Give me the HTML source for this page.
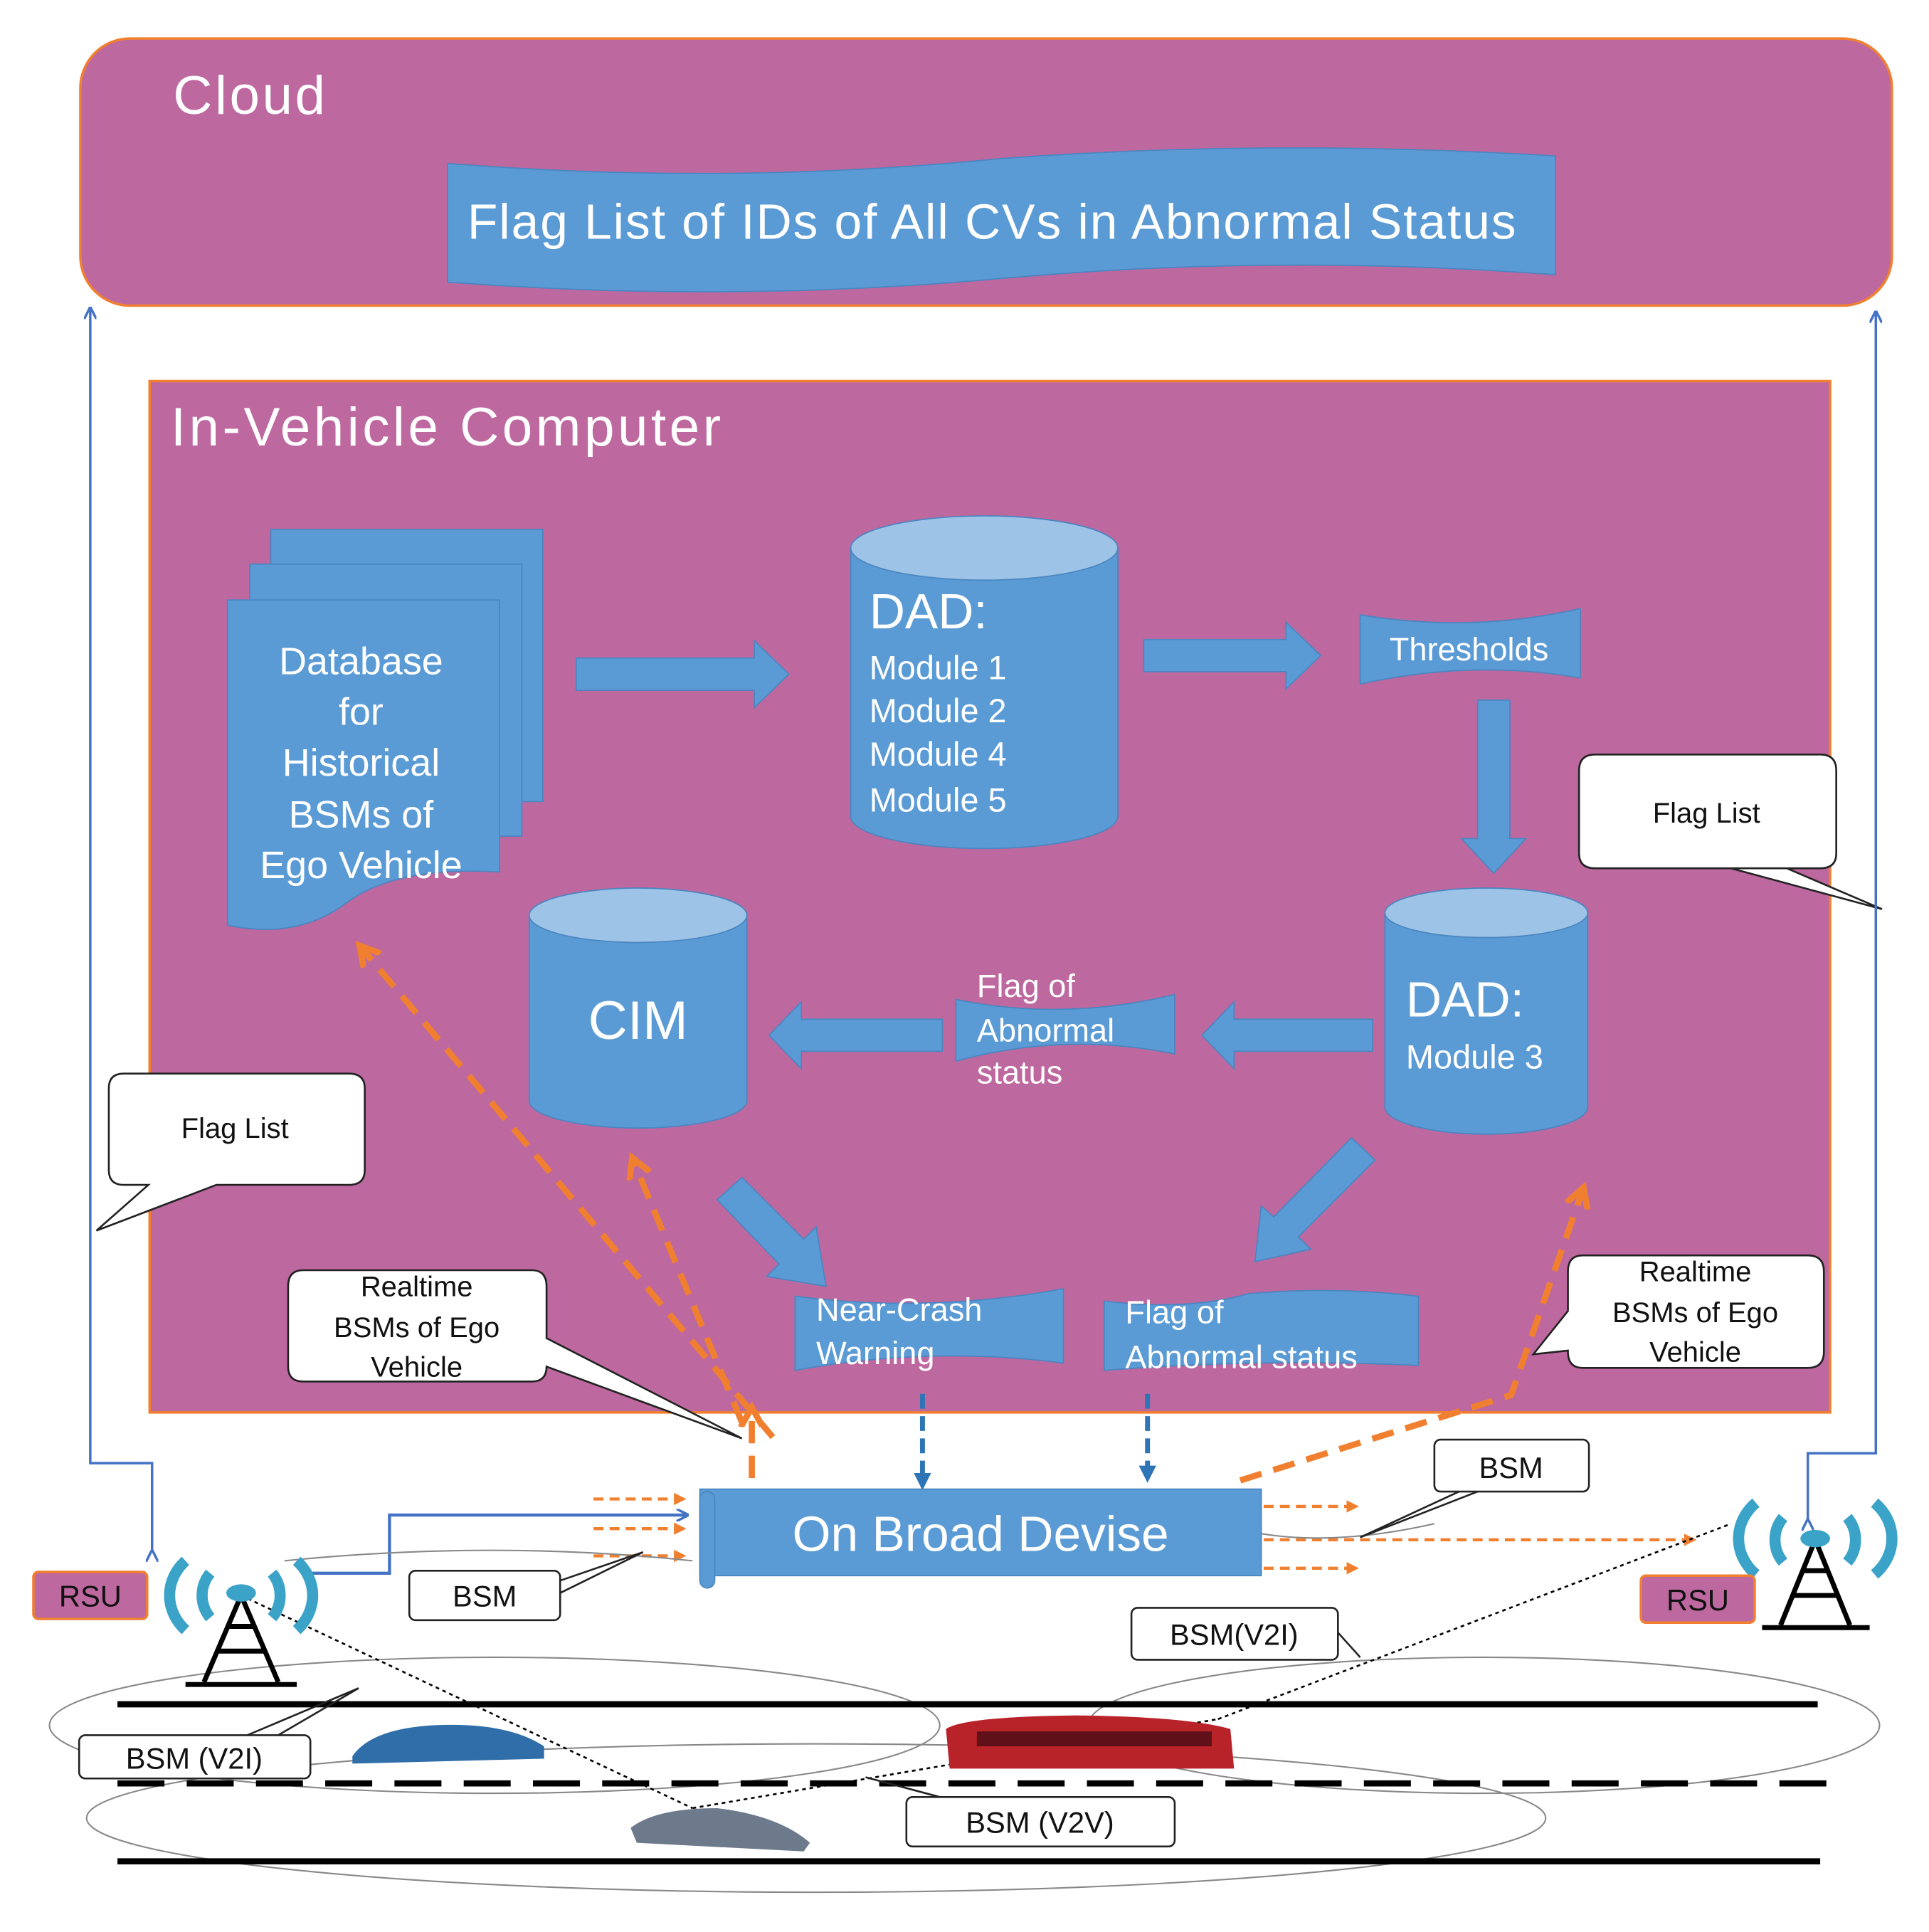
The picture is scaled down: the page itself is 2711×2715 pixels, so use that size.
<!DOCTYPE html>
<html><head><meta charset="utf-8"><style>
html,body{margin:0;padding:0;background:#fff}
svg{display:block}
text{font-family:"Liberation Sans","DejaVu Sans",sans-serif}
</style></head><body>
<svg width="2711" height="2715" viewBox="0 0 1560 1562" xmlns="http://www.w3.org/2000/svg">
<defs>
<marker id="ab" markerWidth="10" markerHeight="10" refX="8" refY="5" orient="auto" markerUnits="userSpaceOnUse"><path d="M0,0 L10,5 L0,10" fill="none" stroke="#4472C4" stroke-width="2"/></marker>
<marker id="ab2" markerWidth="14" markerHeight="14" refX="7" refY="7" orient="auto" markerUnits="userSpaceOnUse"><path d="M0,0 L14,7 L0,14 z" fill="#2E75B6"/></marker>
<marker id="ao" markerWidth="22" markerHeight="22" refX="14" refY="11" orient="auto" markerUnits="userSpaceOnUse"><path d="M0,2 L16,11 L0,20" fill="none" stroke="#F08030" stroke-width="5"/></marker>
<marker id="aos" markerWidth="10" markerHeight="10" refX="8" refY="5" orient="auto" markerUnits="userSpaceOnUse"><path d="M0,0 L10,5 L0,10 z" fill="#F08030"/></marker>
</defs>
<rect x="65" y="31" width="1465" height="216" rx="40" fill="#BE68A0" stroke="#F08030" stroke-width="2"/>
<text x="140" y="92" font-size="44" fill="#fff" textLength="123">Cloud</text>
<path d="M362,132 Q590,150 810,128 Q1030,112 1258,126 L1258,222 Q1030,205 810,225 Q590,245 362,228 Z" fill="#5B9BD5" stroke="#4A86C0"/>
<text x="378" y="193" font-size="40" fill="#fff" textLength="848">Flag List of IDs of All CVs in Abnormal Status</text>
<rect x="121" y="308" width="1359" height="834" fill="#BE68A0" stroke="#F08030" stroke-width="2"/>
<text x="138" y="360" font-size="44" fill="#fff" textLength="445">In-Vehicle Computer</text>
<rect x="219" y="428" width="220" height="220" fill="#5B9BD5" stroke="#4A86C0"/>
<rect x="202" y="456" width="220" height="220" fill="#5B9BD5" stroke="#4A86C0"/>
<path d="M184,485 L404,485 L404,705 Q320,700 280,730 Q240,760 184,748 Z" fill="#5B9BD5" stroke="#4A86C0"/>
<g font-size="31" fill="#fff" text-anchor="middle"><text x="292" y="545">Database</text><text x="292" y="586">for</text><text x="292" y="627">Historical</text><text x="292" y="669">BSMs of</text><text x="292" y="710">Ego Vehicle</text></g>
<path d="M466,532 L610,532 L610,518 L638,545 L610,572 L610,558 L466,558 Z" fill="#5B9BD5" stroke="#4A86C0"/>
<path d="M688,443 L688,660 A108,26 0 0 0 904,660 L904,443 Z" fill="#5B9BD5" stroke="#4A86C0"/>
<ellipse cx="796" cy="443" rx="108" ry="26" fill="#9DC3E6" stroke="#4A86C0"/>
<text x="703" y="508" font-size="40" fill="#fff">DAD:</text>
<g font-size="27" fill="#fff"><text x="703" y="549">Module 1</text><text x="703" y="584">Module 2</text><text x="703" y="619">Module 4</text><text x="703" y="656">Module 5</text></g>
<path d="M925,517 L1040,517 L1040,503 L1068,530 L1040,557 L1040,543 L925,543 Z" fill="#5B9BD5" stroke="#4A86C0"/>
<path d="M1100,497 Q1190,512 1278,492 L1278,548 Q1190,533 1100,553 Z" fill="#5B9BD5" stroke="#4A86C0"/>
<text x="1188" y="534" font-size="26" fill="#fff" text-anchor="middle">Thresholds</text>
<path d="M1195,566 L1221,566 L1221,678 L1234,678 L1208,706 L1182,678 L1195,678 Z" fill="#5B9BD5" stroke="#4A86C0"/>
<path d="M1120,738 L1120,895 A82,22 0 0 0 1284,895 L1284,738 Z" fill="#5B9BD5" stroke="#4A86C0"/>
<ellipse cx="1202" cy="738" rx="82" ry="20" fill="#9DC3E6" stroke="#4A86C0"/>
<text x="1137" y="822" font-size="40" fill="#fff">DAD:</text>
<text x="1137" y="864" font-size="27" fill="#fff">Module 3</text>
<path d="M1110,824 L998,824 L998,810 L972,837 L998,864 L998,850 L1110,850 Z" fill="#5B9BD5" stroke="#4A86C0"/>
<path d="M773,808 Q860,826 950,804 L950,852 Q860,834 773,858 Z" fill="#5B9BD5" stroke="#4A86C0"/>
<g font-size="26" fill="#fff"><text x="790" y="806">Flag of</text><text x="790" y="842">Abnormal</text><text x="790" y="876">status</text></g>
<path d="M762,824 L648,824 L648,810 L622,837 L648,864 L648,850 L762,850 Z" fill="#5B9BD5" stroke="#4A86C0"/>
<path d="M428,740 L428,890 A88,22 0 0 0 604,890 L604,740 Z" fill="#5B9BD5" stroke="#4A86C0"/>
<ellipse cx="516" cy="740" rx="88" ry="22" fill="#9DC3E6" stroke="#4A86C0"/>
<text x="516" y="840" font-size="44" fill="#fff" text-anchor="middle">CIM</text>
<path d="M580,970 L600,952 L650,1002 L660,992 L668,1040 L620,1032 L630,1022 Z" fill="#5B9BD5" stroke="#4A86C0"/>
<path d="M1093,920 L1112,938 L1050,1000 L1060,1010 L1015,1020 L1020,975 L1030,984 Z" fill="#5B9BD5" stroke="#4A86C0"/>
<path d="M643,1048 Q750,1062 860,1042 L860,1102 Q750,1088 643,1108 Z" fill="#5B9BD5" stroke="#4A86C0"/>
<g font-size="26" fill="#fff"><text x="660" y="1068">Near-Crash</text><text x="660" y="1103">Warning</text></g>
<path d="M893,1052 Q960,1060 1010,1046 Q1080,1040 1147,1048 L1147,1104 Q1020,1098 893,1108 Z" fill="#5B9BD5" stroke="#4A86C0"/>
<g font-size="26" fill="#fff"><text x="910" y="1070">Flag of</text><text x="910" y="1106">Abnormal status</text></g>
<path d="M1290,610 L1472,610 Q1485,610 1485,623 L1485,690 Q1485,702 1472,702 L1400,702 L1522,735 L1445,702 L1290,702 Q1277,702 1277,690 L1277,623 Q1277,610 1290,610 Z" fill="#fff" stroke="#222" stroke-width="1.5"/>
<text x="1380" y="665" font-size="23" text-anchor="middle" fill="#111">Flag List</text>
<path d="M100,868 L282,868 Q295,868 295,880 L295,946 Q295,958 282,958 L175,958 L78,995 L120,958 L100,958 Q88,958 88,946 L88,880 Q88,868 100,868 Z" fill="#fff" stroke="#222" stroke-width="1.5"/>
<text x="190" y="920" font-size="23" text-anchor="middle" fill="#111">Flag List</text>
<path d="M245,1027 L430,1027 Q442,1027 442,1040 L442,1082 L600,1163 L442,1105 Q442,1117 430,1117 L245,1117 Q233,1117 233,1105 L233,1040 Q233,1027 245,1027 Z" fill="#fff" stroke="#222" stroke-width="1.5"/>
<g font-size="23" text-anchor="middle" fill="#111"><text x="337" y="1048">Realtime</text><text x="337" y="1081">BSMs of Ego</text><text x="337" y="1113">Vehicle</text></g>
<path d="M1280,1015 L1462,1015 Q1475,1015 1475,1028 L1475,1093 Q1475,1106 1462,1106 L1280,1106 Q1268,1106 1268,1093 L1268,1092 L1240,1095 L1268,1060 L1268,1028 Q1268,1015 1280,1015 Z" fill="#fff" stroke="#222" stroke-width="1.5"/>
<g font-size="23" text-anchor="middle" fill="#111"><text x="1371" y="1036">Realtime</text><text x="1371" y="1069">BSMs of Ego</text><text x="1371" y="1101">Vehicle</text></g>
<polyline points="123,1255 123,1183 73,1183 73,250" fill="none" stroke="#4472C4" stroke-width="2" marker-start="url(#ab)" marker-end="url(#ab)"/>
<polyline points="1462,1230 1462,1175 1517,1175 1517,253" fill="none" stroke="#4472C4" stroke-width="2" marker-start="url(#ab)" marker-end="url(#ab)"/>
<polyline points="250,1272 315,1272 315,1225 555,1225" fill="none" stroke="#4472C4" stroke-width="2.5" marker-end="url(#ab)"/>
<g stroke="#F08030" stroke-width="5" stroke-dasharray="18,10" fill="none">
<line x1="625" y1="1162" x2="292" y2="766" marker-end="url(#ao)"/>
<line x1="600" y1="1150" x2="512" y2="938" marker-end="url(#ao)"/>
<line x1="608" y1="1195" x2="608" y2="1140" marker-end="url(#ao)"/>
<polyline points="1003,1197 1222,1128 1280,962" marker-end="url(#ao)"/>
</g>
<g stroke="#F08030" stroke-width="2.5" stroke-dasharray="8,5" fill="none">
<line x1="480" y1="1212" x2="553" y2="1212" marker-end="url(#aos)"/>
<line x1="480" y1="1236" x2="553" y2="1236" marker-end="url(#aos)"/>
<line x1="480" y1="1258" x2="553" y2="1258" marker-end="url(#aos)"/>
<line x1="1022" y1="1218" x2="1097" y2="1218" marker-end="url(#aos)"/>
<line x1="1022" y1="1245" x2="1370" y2="1245" marker-end="url(#aos)"/>
<line x1="1022" y1="1268" x2="1097" y2="1268" marker-end="url(#aos)"/>
</g>
<g stroke="#2E75B6" stroke-width="4" stroke-dasharray="12,6">
<line x1="746" y1="1127" x2="746" y2="1198" marker-end="url(#ab2)"/>
<line x1="928" y1="1127" x2="928" y2="1192" marker-end="url(#ab2)"/>
</g>
<rect x="566" y="1204" width="454" height="70" fill="#5B9BD5" stroke="#4A86C0"/>
<rect x="566" y="1206" width="12" height="78" rx="6" fill="#5B9BD5" stroke="#4A86C0"/>
<text x="793" y="1254" font-size="40" fill="#fff" text-anchor="middle">On Broad Devise</text>
<g fill="none" stroke="#888" stroke-width="1.2">
<ellipse cx="400" cy="1395" rx="360" ry="55"/>
<ellipse cx="660" cy="1470" rx="590" ry="60"/>
<ellipse cx="1200" cy="1395" rx="320" ry="55"/>
<path d="M230,1262 Q400,1245 560,1262"/>
<path d="M1020,1240 Q1080,1250 1160,1232"/>
</g>
<line x1="95" y1="1378" x2="1470" y2="1378" stroke="#000" stroke-width="5"/>
<line x1="95" y1="1442" x2="1478" y2="1442" stroke="#000" stroke-width="5" stroke-dasharray="38,18"/>
<line x1="95" y1="1505" x2="1472" y2="1505" stroke="#000" stroke-width="5"/>
<g stroke="#000" stroke-width="1.5" stroke-dasharray="3,3" fill="none">
<line x1="195" y1="1290" x2="560" y2="1462"/>
<line x1="560" y1="1462" x2="985" y2="1390"/>
<line x1="985" y1="1390" x2="1400" y2="1232"/>
</g>
<path d="M285,1420 Q300,1398 350,1395 Q410,1392 440,1412 L440,1422 L285,1426 Z" fill="#2F6EA8"/>
<path d="M510,1478 Q530,1462 580,1462 Q630,1468 655,1490 L650,1497 L515,1490 Z" fill="#6C7A8C"/>
<path d="M765,1398 Q780,1388 870,1387 Q960,1388 995,1398 L998,1430 L768,1430 Z" fill="#B8232A"/>
<rect x="790" y="1400" width="190" height="12" fill="#601018"/>
<g stroke="#000" stroke-width="4" fill="none">
<path d="M195,1290 L165,1360 M195,1290 L225,1360 M150,1362 L240,1362 M175,1335 L215,1335 M183,1315 L207,1315"/>
<path d="M1468,1245 L1440,1314 M1468,1245 L1496,1314 M1425,1316 L1512,1316 M1450,1290 L1486,1290 M1458,1270 L1478,1270"/>
</g>
<g fill="none" stroke="#3BA3C8" stroke-width="9">
<path d="M170,1272 A28,28 0 0 0 170,1308"/><path d="M220,1272 A28,28 0 0 1 220,1308"/>
<path d="M150,1262 A45,40 0 0 0 150,1318"/><path d="M240,1262 A45,40 0 0 1 240,1318"/>
<path d="M1442,1227 A28,28 0 0 0 1442,1263"/><path d="M1494,1227 A28,28 0 0 1 1494,1263"/>
<path d="M1420,1215 A45,40 0 0 0 1420,1273"/><path d="M1516,1215 A45,40 0 0 1 1516,1273"/>
</g>
<ellipse cx="195" cy="1288" rx="12" ry="7" fill="#3BA3C8"/>
<ellipse cx="1468" cy="1244" rx="12" ry="7" fill="#3BA3C8"/>
<rect x="27" y="1271" width="92" height="38" rx="4" fill="#BE68A0" stroke="#F08030" stroke-width="2"/>
<text x="73" y="1299" font-size="24" text-anchor="middle" fill="#111">RSU</text>
<rect x="1327" y="1274" width="92" height="38" rx="4" fill="#BE68A0" stroke="#F08030" stroke-width="2"/>
<text x="1373" y="1302" font-size="24" text-anchor="middle" fill="#111">RSU</text>
<g fill="#fff" stroke="#222" stroke-width="1.5">
<rect x="331" y="1270" width="122" height="40" rx="5"/>
<line x1="453" y1="1278" x2="520" y2="1255" fill="none"/><line x1="453" y1="1288" x2="520" y2="1255"/>
<rect x="1160" y="1164" width="125" height="42" rx="5"/>
<line x1="1180" y1="1206" x2="1100" y2="1243"/><line x1="1195" y1="1206" x2="1100" y2="1243"/>
<rect x="915" y="1300" width="167" height="42" rx="5"/>
<line x1="1082" y1="1320" x2="1100" y2="1340"/>
<rect x="64" y="1403" width="187" height="35" rx="5"/>
<line x1="200" y1="1403" x2="290" y2="1365"/><line x1="225" y1="1403" x2="290" y2="1365"/>
<rect x="733" y="1453" width="217" height="40" rx="5"/>
<line x1="760" y1="1453" x2="700" y2="1437"/>
</g>
<g font-size="24" fill="#111" text-anchor="middle">
<text x="392" y="1299">BSM</text>
<text x="1222" y="1195">BSM</text>
<text x="998" y="1330">BSM(V2I)</text>
<text x="157" y="1430">BSM (V2I)</text>
<text x="841" y="1482">BSM (V2V)</text>
</g>
</svg>
</body></html>
